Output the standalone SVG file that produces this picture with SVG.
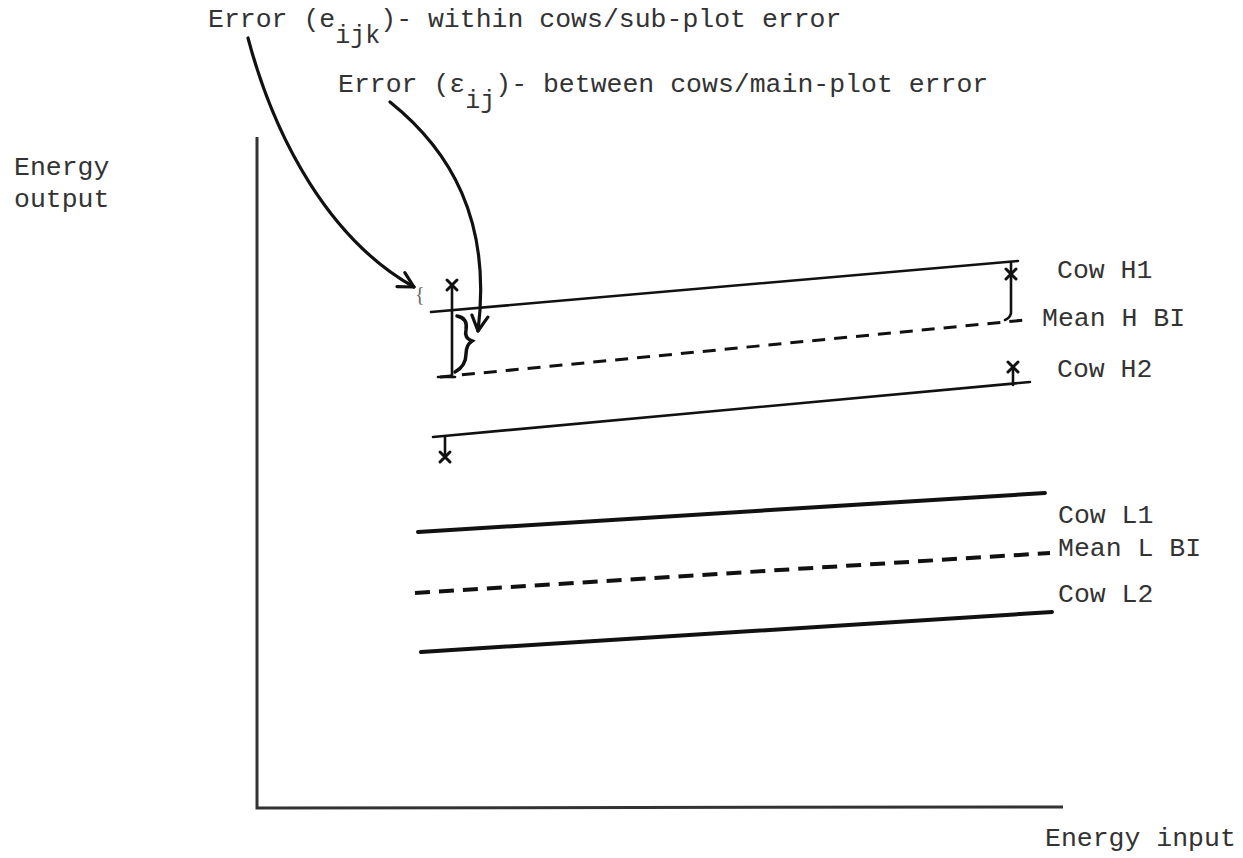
<svg xmlns="http://www.w3.org/2000/svg" width="1243" height="858" viewBox="0 0 1243 858">
<style>
text{font-family:"Liberation Mono","DejaVu Sans Mono",monospace;font-size:26.5px;fill:#333}
.sub{font-size:25px}
.ax{stroke:#333;stroke-width:3;fill:none}
.thin{stroke:#111;stroke-width:2.6;fill:none;stroke-linecap:round}
.thick{stroke:#111;stroke-width:4;fill:none;stroke-linecap:round}
.dashH{stroke:#111;stroke-width:3;fill:none;stroke-dasharray:13 9}
.dashL{stroke:#111;stroke-width:4;fill:none;stroke-dasharray:15 9}
.mark{stroke:#111;stroke-width:3;fill:none;stroke-linecap:round}
.arr{stroke:#111;stroke-width:3.2;fill:none;stroke-linecap:round}
</style>
<defs>
<marker id="vhead" viewBox="0 0 20 20" refX="18" refY="10" markerWidth="20" markerHeight="20" markerUnits="userSpaceOnUse" orient="auto">
<path d="M3,2 L18,10 L3,18" fill="none" stroke="#111" stroke-width="3.2" stroke-linecap="round" stroke-linejoin="round"/>
</marker>
</defs>
<rect width="1243" height="858" fill="#fff"/>

<g id="title-labels">
<text x="208" y="27">Error (e<tspan class="sub" dy="16">ijk</tspan><tspan dy="-16">)- within cows/sub-plot error</tspan></text>
<text x="338" y="92">Error (ε<tspan class="sub" dy="16">ij</tspan><tspan dy="-16">)- between cows/main-plot error</tspan></text>
</g>

<g id="axes">
<path class="ax" d="M257,137 L257,808 L1063,807"/>
<text x="14" y="175">Energy</text>
<text x="14" y="207">output</text>
<text x="1045" y="846">Energy input</text>
</g>

<g id="cow-h1">
<path class="thin" d="M431,312 L1018,261"/>
<text x="1057" y="278">Cow H1</text>
</g>
<g id="mean-h">
<path class="dashH" d="M440,377 L1025,320"/>
<path class="thin" d="M438,377 L455,377"/>
<text x="1042" y="326">Mean H BI</text>
</g>
<g id="cow-h2">
<path class="thin" d="M433,437 L1030,382"/>
<text x="1057" y="377">Cow H2</text>
</g>
<g id="cow-l1">
<path class="thick" d="M418,532 L1045,493"/>
<text x="1058" y="523">Cow L1</text>
</g>
<g id="mean-l">
<path class="dashL" d="M415,593 L1050,553"/>
<text x="1058" y="556">Mean L BI</text>
</g>
<g id="cow-l2">
<path class="thick" d="M421,652 L1052,612"/>
<text x="1058" y="602">Cow L2</text>
</g>

<g id="error-marks">
<path class="thin" d="M452,285 L452,377"/>
<path class="mark" d="M447,280 L457,290 M457,280 L447,290"/>
<path class="thin" d="M1011,262 L1011,313 Q1010,318 1005,320"/>
<path class="mark" d="M1006,269 L1016,279 M1016,269 L1006,279"/>
<path class="thin" d="M1013,368 L1013,385"/>
<path class="mark" d="M1008,362 L1018,372 M1018,362 L1008,372"/>
<path class="thin" d="M445,437 L445,456"/>
<path class="mark" d="M440,452 L450,462 M450,452 L440,462"/>
<path d="M457,316 Q468,318 466,330 Q464,338 472,341 Q466,345 466,354 Q466,366 455,372" fill="none" stroke="#111" stroke-width="3.5" stroke-linecap="round"/>
<text x="415" y="301" style="font-family:'Liberation Serif',serif;font-size:20px;fill:#666">{</text>
</g>

<g id="connectors">
<path class="arr" d="M248,38 C275,140 330,240 414,287" marker-end="url(#vhead)"/>
<path class="arr" d="M390,102 C450,150 492,220 478,331" marker-end="url(#vhead)"/>
</g>
</svg>
